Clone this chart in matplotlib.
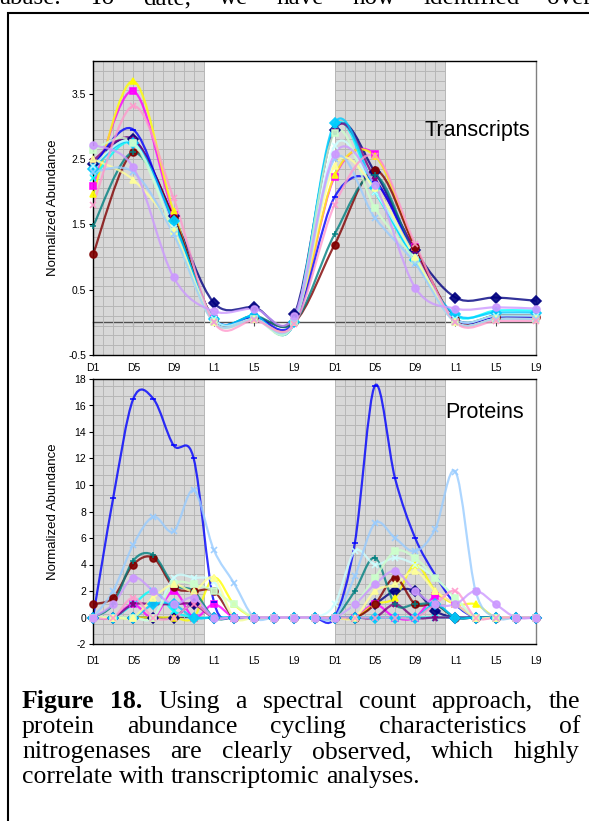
import numpy as np
import matplotlib
matplotlib.use("Agg")
import matplotlib.pyplot as plt
from matplotlib.path import Path
from matplotlib.patches import PathPatch, Rectangle

plt.rcParams['font.family'] = ['Liberation Sans', 'DejaVu Sans']

# ---- data -------------------------------------------------------------
TOP_LABELS = ['D1', 'D5', 'D9', 'L1', 'L5', 'L9', 'D1', 'D5', 'D9', 'L1', 'L5', 'L9']
TOP_HOURS = [0, 4, 8, 12, 16, 20, 24, 28, 32, 36, 40, 44]
BOT_HOURS = [0, 2, 4, 6, 8, 10, 12, 14, 16, 18, 20, 22,
             24, 26, 28, 30, 32, 34, 36, 38, 40, 42, 44]
DARK_PERIODS = [(0, 11), (24, 35)]

SERIES_COLORS = ['#000080', '#FF00FF', '#FFFF00', '#00FFFF', '#800080',
                 '#800000', '#008080', '#0000FF', '#00CCFF', '#CCFFFF',
                 '#CCFFCC', '#FFFF99', '#99CCFF', '#FF99CC', '#CC99FF']
SERIES_MARKERS = ['D', 's', '^', 'x', '*', 'o', '+', '_', 'D', 'x',
                  's', '^', 'x', 'x', 'o']

# transcripts (normalized abundance, 4 h sampling)
tr_navy     = [2.43, 2.80, 1.62, 0.30, 0.23, 0.12, 2.95, 2.30, 1.10, 0.38, 0.38, 0.33]
tr_magenta  = [2.08, 3.54, 1.65, 0.05, 0.08, 0.00, 2.23, 2.57, 1.15, 0.05, 0.10, 0.10]
tr_yellow   = [1.96, 3.69, 1.70, 0.05, 0.08, 0.00, 2.25, 2.55, 1.15, 0.05, 0.10, 0.10]
tr_cyan     = [2.21, 2.75, 1.55, 0.05, 0.10, 0.00, 3.00, 2.00, 0.95, 0.10, 0.18, 0.18]
tr_purple   = [2.48, 2.80, 1.60, 0.05, 0.08, 0.00, 2.95, 2.20, 1.10, 0.05, 0.10, 0.10]
tr_maroon   = [1.04, 2.60, 1.60, 0.05, 0.08, 0.00, 1.19, 2.33, 1.15, 0.05, 0.08, 0.08]
tr_teal     = [1.47, 2.60, 1.55, 0.05, 0.10, 0.00, 1.35, 2.25, 1.00, 0.05, 0.10, 0.10]
tr_blue     = [2.38, 2.95, 1.45, 0.05, 0.08, 0.00, 1.92, 2.15, 1.00, 0.05, 0.08, 0.08]
tr_sky      = [2.35, 2.75, 1.55, 0.05, 0.10, 0.00, 3.05, 2.05, 0.95, 0.12, 0.15, 0.15]
tr_ltturq   = [2.40, 2.75, 1.45, 0.05, 0.05, 0.00, 2.70, 2.00, 1.00, 0.05, 0.10, 0.10]
tr_ltgreen  = [2.64, 2.75, 1.40, 0.00, 0.05, 0.00, 2.90, 1.75, 0.95, 0.00, 0.05, 0.05]
tr_ltyellow = [2.50, 2.18, 1.40, 0.00, 0.05, 0.00, 2.40, 2.05, 1.00, 0.00, 0.05, 0.05]
tr_paleblue = [2.30, 2.30, 1.35, 0.00, 0.05, 0.00, 2.50, 1.60, 0.90, 0.00, 0.05, 0.05]
tr_rose     = [1.80, 3.31, 1.90, 0.00, 0.03, -0.03, 1.80, 2.55, 1.20, 0.00, 0.02, 0.02]
tr_lavender = [2.72, 2.37, 0.69, 0.17, 0.21, 0.10, 2.58, 2.10, 0.53, 0.21, 0.23, 0.21]

# proteins (spectral counts, 2 h sampling)
pr_navy     = [0, 0, 0, 0, 0, 1.0, 0, 0, 0, 0, 0, 0, 0, 0, 1.0, 2.0, 2.0, 0.5, 0, 0, 0, 0, 0]
pr_magenta  = [0, 0, 1.0, 0, 2.0, 0, 1.0, 0, 0, 0, 0, 0, 0, 0, 1.0, 0, 0, 1.6, 1.0, 0, 0, 0, 0]
pr_yellow   = [0, 0, 0, 0, 0, 0, 3.0, 1.0, 0, 0, 0, 0, 0, 0, 1.0, 1.5, 4.0, 2.0, 1.0, 1.0, 0, 0, 0]
pr_cyan     = [0, 0, 1.0, 2.0, 0.5, 0, 0, 0, 0, 0, 0, 0, 0, 0, 0, 0, 0, 0, 0, 0, 0, 0, 0]
pr_purple   = [0, 0, 1.0, 1.0, 1.0, 1.0, 0, 0, 0, 0, 0, 0, 0, 0, 0, 1.0, 0, 0, 0, 0, 0, 0, 0]
pr_maroon   = [1.0, 1.5, 4.0, 4.5, 2.3, 2.0, 2.0, 0, 0, 0, 0, 0, 0, 0, 1.0, 3.0, 1.0, 1.0, 0, 0, 0, 0, 0]
pr_teal     = [0, 1.0, 4.3, 4.7, 2.5, 2.0, 0, 0, 0, 0, 0, 0, 0, 2.0, 4.5, 1.0, 1.0, 1.0, 0, 0, 0, 0, 0]
pr_blue     = [0, 9.0, 16.5, 16.5, 13.0, 12.0, 1.2, 0, 0, 0, 0, 0, 0, 5.6, 17.5, 10.5, 6.0, 3.2, 1.0, 0, 0, 0, 0]
pr_sky      = [0, 0, 0, 1.0, 1.0, 0, 0, 0, 0, 0, 0, 0, 0, 0, 0, 0, 0, 1.0, 0, 0, 0, 0, 0]
pr_ltturq   = [0, 0, 0, 0, 3.0, 3.0, 2.7, 0, 0, 0, 0, 0, 1.0, 5.0, 4.0, 4.5, 4.0, 3.0, 1.5, 0, 0, 0, 0]
pr_ltgreen  = [0, 0, 0, 0, 2.5, 2.5, 2.0, 1.0, 0, 0, 0, 0, 0, 1.0, 3.0, 5.0, 4.5, 3.0, 1.5, 0, 0, 0, 0]
pr_ltyellow = [0, 0, 0, 1.5, 2.5, 2.0, 3.0, 0, 0, 0, 0, 0, 0, 0, 2.0, 2.5, 3.5, 2.0, 1.0, 0, 0, 0, 0]
pr_paleblue = [0, 2.0, 5.5, 7.6, 6.5, 9.6, 5.1, 2.6, 0, 0, 0, 0, 0, 3.1, 7.1, 6.0, 5.0, 6.7, 11.0, 2.0, 0, 0, 0]
pr_rose     = [0, 0, 1.5, 0, 0, 1.0, 0, 0, 0, 0, 0, 0, 0, 0, 0, 0, 0, 1.0, 2.0, 0, 0, 0, 0]
pr_lavender = [0, 1.0, 3.0, 2.0, 1.0, 1.5, 0, 0, 0, 0, 0, 0, 0, 1.0, 2.5, 3.5, 2.0, 1.0, 1.0, 2.0, 1.0, 0, 0]

TRANSCRIPTS = [tr_navy, tr_magenta, tr_yellow, tr_cyan, tr_purple, tr_maroon,
               tr_teal, tr_blue, tr_sky, tr_ltturq, tr_ltgreen, tr_ltyellow,
               tr_paleblue, tr_rose, tr_lavender]
PROTEINS = [pr_navy, pr_magenta, pr_yellow, pr_cyan, pr_purple, pr_maroon,
            pr_teal, pr_blue, pr_sky, pr_ltturq, pr_ltgreen, pr_ltyellow,
            pr_paleblue, pr_rose, pr_lavender]

CAPTION = [
    (["Figure", "18.", "Using", "a", "spectral", "count", "approach,", "the"], 2, True),
    (["protein", "abundance", "cycling", "characteristics", "of"], 0, True),
    (["nitrogenases", "are", "clearly", "observed,", "which", "highly"], 0, True),
    (["correlate", "with", "transcriptomic", "analyses."], 0, False),
]
TOP_LINE = ["abase.", "To", "date,", "we", "have", "now", "identified", "over"]

W, H = 589, 821


def smooth_path(x, y):
    """Excel-like smoothed line as cubic Bezier segments."""
    pts = np.column_stack([np.asarray(x, float), np.asarray(y, float)])
    n = len(pts)
    verts = [pts[0]]
    codes = [Path.MOVETO]
    for i in range(n - 1):
        p0 = pts[max(i - 1, 0)]
        p1 = pts[i]
        p2 = pts[i + 1]
        p3 = pts[min(i + 2, n - 1)]
        verts += [p1 + (p2 - p0) / 6.0, p2 - (p3 - p1) / 6.0, p2]
        codes += [Path.CURVE4] * 3
    return Path(verts, codes)


def setup_panel(ax, ylim, yticks, ylabels, hstep, label_pad):
    ax.set_xlim(0, 44)
    ax.set_ylim(*ylim)
    # shaded dark periods with fine grid
    for a, b in DARK_PERIODS:
        ax.axvspan(a, b, facecolor='#d8d8d8', edgecolor='none', zorder=0)
        ax.vlines(np.arange(a, b + 0.5, 1), ylim[0], ylim[1],
                  color='#b6b6b6', lw=0.7, zorder=0.5)
        ax.hlines(np.arange(ylim[0], ylim[1], hstep), a, b,
                  color='#b6b6b6', lw=0.7, zorder=0.5)
    ax.set_yticks(yticks)
    ax.set_yticklabels(ylabels, fontsize=7.5)
    ax.tick_params(axis='y', direction='out', length=3, width=0.8, pad=2)
    ax.set_xticks(TOP_HOURS)
    ax.set_xticklabels(TOP_LABELS, fontsize=7.5)
    ax.tick_params(axis='x', length=0, pad=label_pad)
    for s in ['top', 'left', 'bottom']:
        ax.spines[s].set_color('black')
        ax.spines[s].set_linewidth(1.0)
    ax.spines['right'].set_color('#808080')
    ax.spines['right'].set_linewidth(1.0)
    # category axis crossing at zero
    zero = (0 - ylim[0]) / (ylim[1] - ylim[0])
    sec = ax.secondary_xaxis(zero)
    sec.set_xticks(TOP_HOURS)
    sec.set_xticklabels([''] * len(TOP_HOURS))
    sec.tick_params(direction='out', length=3, width=0.8, color='#505050')
    sec.spines['bottom'].set_color('#505050')
    sec.spines['bottom'].set_linewidth(1.0)
    ax.set_ylabel('Normalized Abundance', fontsize=9.5)
    ax.yaxis.set_label_coords(-0.076, 0.5)


def draw_series(ax, hours, series):
    for vals, c, m in zip(series, SERIES_COLORS, SERIES_MARKERS):
        ax.add_patch(PathPatch(smooth_path(hours, vals), fill=False,
                               edgecolor=c, lw=1.6, alpha=0.8, zorder=2))
        ax.plot(hours, vals, ls='none', marker=m, ms=5, color=c, mec=c,
                mew=1.2, alpha=0.9, zorder=3, clip_on=False)


def justified(fig, words, y_px, x0_px, x1_px, size, n_bold=0, justify=True):
    renderer = fig.canvas.get_renderer()
    texts = []
    for k, w in enumerate(words):
        t = fig.text(0, 1 - y_px / H, w, fontsize=size, va='baseline', ha='left',
                     family=['Liberation Serif', 'DejaVu Serif'],
                     weight='bold' if k < n_bold else 'normal')
        texts.append(t)
    widths = [t.get_window_extent(renderer).width for t in texts]
    if justify:
        gap = (x1_px - x0_px - sum(widths)) / (len(words) - 1)
    else:
        gap = size * 0.25 * 100 / 72
    x = x0_px
    for t, w in zip(texts, widths):
        t.set_x(x / W)
        x += w + gap


fig = plt.figure(figsize=(W / 100, H / 100), dpi=100)

ax1 = fig.add_axes([93 / W, 1 - 355 / H, 443 / W, 294 / H])
setup_panel(ax1, (-0.5, 4.0), [-0.5, 0.5, 1.5, 2.5, 3.5],
            ['-0.5', '0.5', '1.5', '2.5', '3.5'], 0.15, 5.5)
draw_series(ax1, TOP_HOURS, TRANSCRIPTS)
ax1.text(0.867, 0.762, 'Transcripts', transform=ax1.transAxes, fontsize=15.5,
         ha='center', va='center', zorder=5)

ax2 = fig.add_axes([93 / W, 1 - 644 / H, 443 / W, 265 / H])
setup_panel(ax2, (-2, 18), list(range(-2, 19, 2)),
            [str(v) for v in range(-2, 19, 2)], 0.75, 8.5)
draw_series(ax2, BOT_HOURS, PROTEINS)
ax2.text(0.885, 0.875, 'Proteins', transform=ax2.transAxes, fontsize=15.5,
         ha='center', va='center', zorder=5)

# page border and surrounding text
fig.patches.append(Rectangle((8 / W, -0.1), 1.2, 1 - 13 / H + 0.1,
                             transform=fig.transFigure, fill=False,
                             edgecolor='black', lw=1.5))
justified(fig, TOP_LINE, 4, -1, 592, 18)
for i, (words, nb, just) in enumerate(CAPTION):
    justified(fig, words, 708 + 25 * i, 22, 580, 18.5, n_bold=nb, justify=just)

fig.savefig('out.png', dpi=100)
